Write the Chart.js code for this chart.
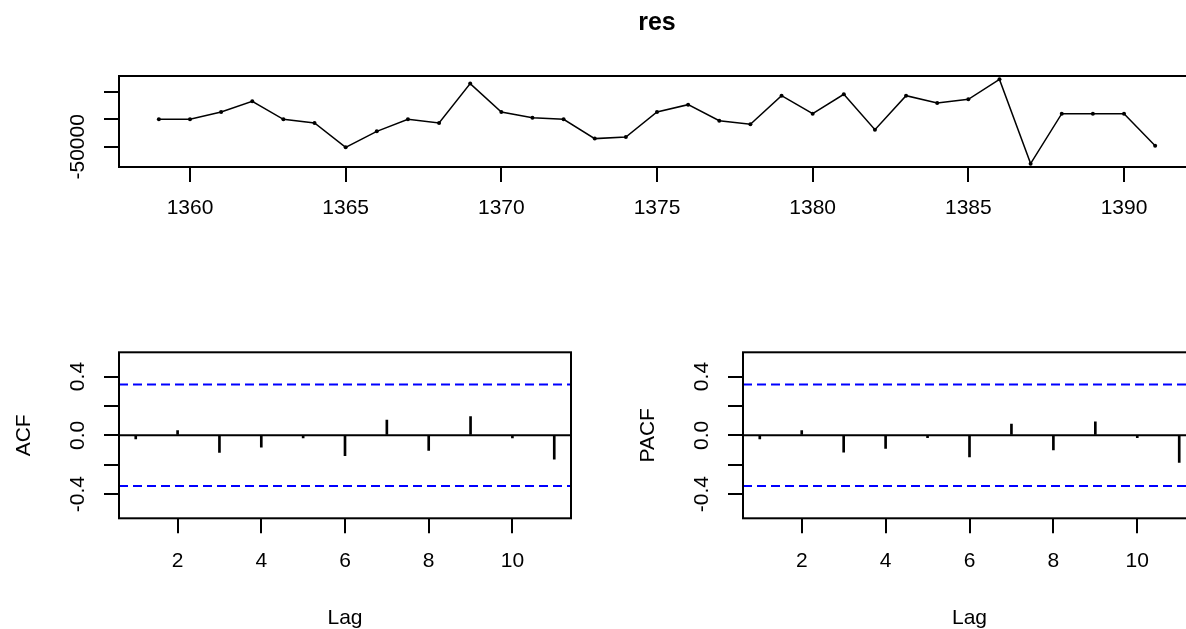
<!DOCTYPE html>
<html>
<head>
<meta charset="utf-8">
<script src="https://cdn.jsdelivr.net/npm/chart.js@4.4.1/dist/chart.umd.min.js"></script>
<style>
  html, body { margin: 0; padding: 0; background: #fff; }
  body { width: 1186px; height: 629px; overflow: hidden; position: relative; }
  canvas { position: absolute; }
  #resChart { left: 0; top: 0; }
  #acfChart { left: 0; top: 300px; }
  #pacfChart { left: 620px; top: 300px; }
</style>
</head>
<body>
<canvas id="resChart" width="1310" height="227"></canvas>
<canvas id="acfChart" width="600" height="340"></canvas>
<canvas id="pacfChart" width="600" height="340"></canvas>
<script>
// residual series
const years = [1359, 1360, 1361, 1362, 1363, 1364, 1365, 1366, 1367, 1368, 1369,
               1370, 1371, 1372, 1373, 1374, 1375, 1376, 1377, 1378, 1379, 1380,
               1381, 1382, 1383, 1384, 1385, 1386, 1387, 1388, 1389, 1390, 1391];
const resValues = [0, 0, 13300, 32700, 0, -6700, -51000, -21800, 0, -6700, 65000,
                   13300, 3000, 0, -35100, -32100, 13300, 26700, -2400, -9100, 43000, 10300,
                   45500, -18800, 43000, 29700, 36400, 72700, -80600, 10300, 10300, 10300, -47900];
const yearTicks = [1360, 1365, 1370, 1375, 1380, 1385, 1390];
const resTicks = [-50000, 0, 50000];

// correlograms
const lags = [1, 2, 3, 4, 5, 6, 7, 8, 9, 10, 11];
const acfValues = [-0.025, 0.032, -0.116, -0.080, -0.018, -0.139, 0.103, -0.103, 0.128, -0.018, -0.162];
const pacfValues = [-0.025, 0.032, -0.114, -0.089, -0.016, -0.148, 0.077, -0.100, 0.091, -0.016, -0.185];
const lagTicks = [2, 4, 6, 8, 10];
const corrTicks = [-0.4, -0.2, 0, 0.2, 0.4];
const ciLimit = 0.345;
const corrLimit = 0.565;

Chart.defaults.font.family = "'Liberation Sans', Arial, sans-serif";
Chart.defaults.font.size = 21;
Chart.defaults.color = '#000';

// R style: box round the plot, zero line and blue dashed limits
const rFrame = {
  id: 'rFrame',
  beforeDatasetsDraw(chart, args, opts) {
    if (!opts.ci) return;
    const { ctx, chartArea: a, scales: { y } } = chart;
    ctx.save();
    ctx.strokeStyle = '#0000ff';
    ctx.lineWidth = 2;
    ctx.setLineDash([9, 5]);
    [opts.ci, -opts.ci].forEach(v => {
      const py = y.getPixelForValue(v);
      ctx.beginPath(); ctx.moveTo(a.left, py); ctx.lineTo(a.right, py); ctx.stroke();
    });
    ctx.setLineDash([]);
    ctx.strokeStyle = '#000';
    const z = y.getPixelForValue(0);
    ctx.beginPath(); ctx.moveTo(a.left, z); ctx.lineTo(a.right, z); ctx.stroke();
    ctx.restore();
  },
  afterDraw(chart) {
    const { ctx, chartArea: a } = chart;
    ctx.save();
    ctx.strokeStyle = '#000';
    ctx.lineWidth = 2;
    ctx.strokeRect(a.left, a.top, a.right - a.left, a.bottom - a.top);
    ctx.restore();
  }
};

const tickGrid = { drawOnChartArea: false, drawTicks: true, tickLength: 15, color: '#000', lineWidth: 2 };

function ext(lo, hi) {
  const d = (hi - lo) * 0.04;
  return [lo - d, hi + d];
}

const [xMin, xMax] = ext(years[0], years[years.length - 1]);
const [yMin, yMax] = ext(Math.min(...resValues), Math.max(...resValues));

new Chart(document.getElementById('resChart'), {
  type: 'line',
  data: {
    datasets: [{
      data: years.map((x, i) => ({ x: x, y: resValues[i] })),
      borderColor: '#000',
      borderWidth: 1.5,
      pointRadius: 2,
      pointHoverRadius: 2,
      pointBackgroundColor: '#000',
      pointBorderWidth: 0,
      tension: 0
    }]
  },
  options: {
    responsive: false,
    animation: false,
    layout: { padding: { top: 0, right: 115, bottom: 0, left: 0 } },
    plugins: {
      legend: { display: false },
      tooltip: { enabled: false },
      title: { display: true, fullSize: false, text: 'res', font: { size: 25, weight: 'bold' }, padding: { top: 8, bottom: 38 } },
      rFrame: {}
    },
    scales: {
      x: {
        type: 'linear', min: xMin, max: xMax,
        afterBuildTicks: s => { s.ticks = yearTicks.map(v => ({ value: v })); },
        afterFit: s => { s.height = 60; },
        grid: tickGrid, border: { display: false },
        ticks: { padding: 14, autoSkip: false, maxRotation: 0, callback: v => String(v) }
      },
      y: {
        min: yMin, max: yMax,
        afterBuildTicks: s => { s.ticks = resTicks.map(v => ({ value: v })); },
        afterFit: s => { s.width = 119; },
        grid: tickGrid, border: { display: false },
        ticks: { minRotation: 90, maxRotation: 90, crossAlign: 'center', padding: -7, autoSkip: false,
                 callback: v => (v === -50000 ? '-50000' : '') }
      }
    }
  },
  plugins: [rFrame]
});

function corrChart(id, values, label, titlePad, yWidth, padRight) {
  return new Chart(document.getElementById(id), {
    type: 'bar',
    data: {
      datasets: [{
        data: lags.map((x, i) => ({ x: x, y: values[i] })),
        backgroundColor: '#000',
        borderWidth: 0,
        barThickness: 2
      }]
    },
    options: {
      responsive: false,
      animation: false,
      layout: { padding: { top: 52.3, right: padRight, bottom: 0, left: 0 } },
      plugins: {
        legend: { display: false },
        tooltip: { enabled: false },
        rFrame: { ci: ciLimit }
      },
      scales: {
        x: {
          type: 'linear', min: 0.6, max: 11.4, offset: false,
          afterBuildTicks: s => { s.ticks = lagTicks.map(v => ({ value: v })); },
          afterFit: s => { s.height = 121.7; },
          grid: Object.assign({ offset: false }, tickGrid), border: { display: false },
          ticks: { padding: 15, autoSkip: false, maxRotation: 0 },
          title: { display: true, text: 'Lag', padding: { top: 0, bottom: 9.4 } }
        },
        y: {
          min: -corrLimit, max: corrLimit,
          afterBuildTicks: s => { s.ticks = corrTicks.map(v => ({ value: v })); },
          afterFit: s => { s.width = yWidth; },
          grid: tickGrid, border: { display: false },
          ticks: { minRotation: 90, maxRotation: 90, crossAlign: 'center', padding: 7.5, autoSkip: false,
                   callback: v => (Math.abs(Math.abs(v) - 0.2) < 1e-9 ? '' : v.toFixed(1)) },
          title: { display: true, text: label, padding: { top: titlePad, bottom: 0 } }
        }
      }
    },
    plugins: [rFrame]
  });
}

corrChart('acfChart', acfValues, 'ACF', 11.4, 119, 29);
corrChart('pacfChart', pacfValues, 'PACF', 15.4, 123, 24);
</script>
</body>
</html>
